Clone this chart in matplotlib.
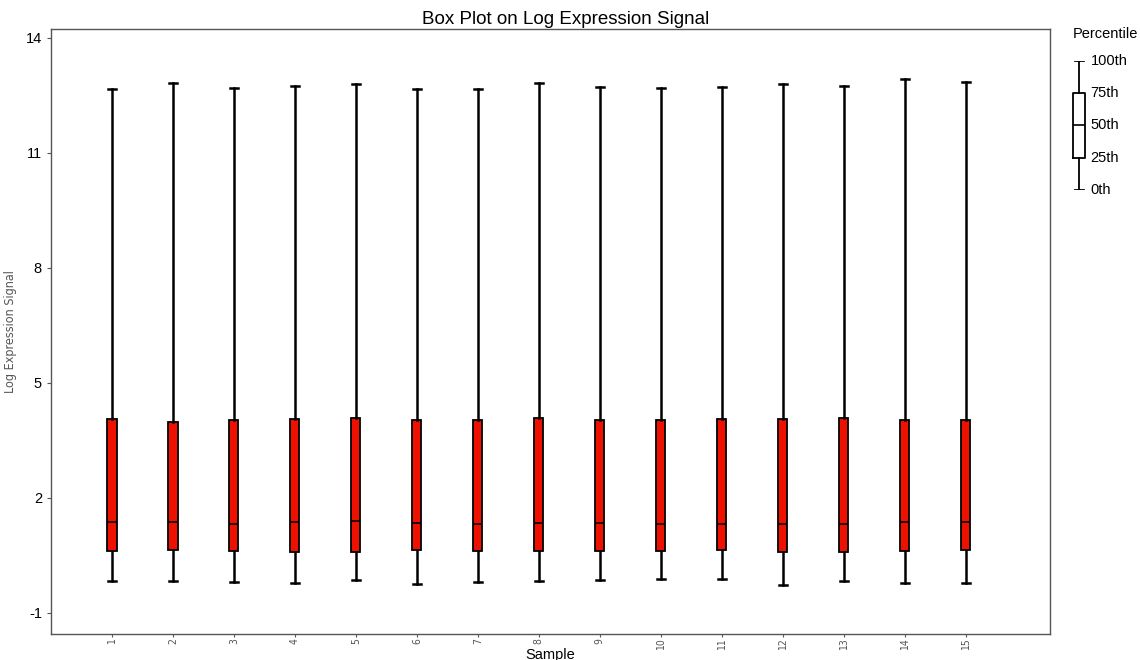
import numpy as np
import matplotlib.pyplot as plt

# Box plot of log expression signal per sample
samples = [str(i) for i in range(1, 16)]
whislo = [-0.17, -0.18, -0.20, -0.21, -0.13, -0.25, -0.20, -0.18, -0.13, -0.12, -0.11, -0.26, -0.18, -0.23, -0.21]
q1 = [0.62, 0.65, 0.62, 0.60, 0.60, 0.63, 0.62, 0.61, 0.62, 0.62, 0.63, 0.60, 0.60, 0.62, 0.63]
med = [1.36, 1.38, 1.33, 1.36, 1.40, 1.35, 1.31, 1.35, 1.35, 1.32, 1.33, 1.33, 1.31, 1.38, 1.36]
q3 = [4.05, 3.98, 4.03, 4.05, 4.08, 4.02, 4.03, 4.09, 4.03, 4.03, 4.05, 4.06, 4.08, 4.03, 4.03]
whishi = [12.67, 12.82, 12.70, 12.75, 12.79, 12.67, 12.67, 12.83, 12.72, 12.70, 12.72, 12.79, 12.75, 12.92, 12.85]

yticks = [-1, 2, 5, 8, 11, 14]
legend_pct = [0, 25, 50, 75, 100]
legend_labels = ['0th', '25th', '50th', '75th', '100th']

plt.rcParams['font.family'] = ['Liberation Sans', 'DejaVu Sans']

fig = plt.figure(figsize=(11.4, 6.6), dpi=100)
ax = fig.add_axes([0.0447, 0.0394, 0.8763, 0.9166])

stats = []
for i in range(len(samples)):
    stats.append({'whislo': whislo[i], 'q1': q1[i], 'med': med[i],
                  'q3': q3[i], 'whishi': whishi[i], 'fliers': []})

pos = np.arange(1, len(samples) + 1)
ax.bxp(stats, positions=pos, widths=0.15, capwidths=0.13, patch_artist=True,
       showfliers=False,
       boxprops=dict(facecolor='#EE1100', edgecolor='black', linewidth=1.3),
       medianprops=dict(color='black', linewidth=1.2),
       whiskerprops=dict(color='black', linewidth=1.8),
       capprops=dict(color='black', linewidth=1.8))

ax.set_xlim(0, 16.38)
ax.set_ylim(-1.55, 14.23)
ax.set_yticks(yticks)
ax.set_yticklabels([str(t) for t in yticks], fontsize=10.5)
ax.set_xticks(pos)
ax.set_xticklabels(samples, rotation=90, fontsize=7.5, color='#555555',
                   family='DejaVu Sans', fontstretch='condensed')
ax.tick_params(axis='y', length=3, color='#555555')
ax.tick_params(axis='x', length=2, pad=1, color='#555555')
for s in ax.spines.values():
    s.set_color('#555555')
    s.set_linewidth(1)

fig.text(0.496, 0.971, 'Box Plot on Log Expression Signal', fontsize=13.5,
         ha='center', va='center')
ax.set_xlabel('Sample', fontsize=10.5)
ax.xaxis.label.set_va('center')
ax.xaxis.set_label_coords(0.5, -0.034)
ax.set_ylabel('Log Expression Signal', fontsize=9, color='#555555',
              family='DejaVu Sans', fontstretch='condensed')
ax.yaxis.set_label_coords(-0.034, 0.5)

# percentile legend
lax = fig.add_axes([0.9386, 0.712, 0.016, 0.196])
lax.bxp([{'whislo': legend_pct[0], 'q1': legend_pct[1], 'med': legend_pct[2],
          'q3': legend_pct[3], 'whishi': legend_pct[4], 'fliers': []}],
        positions=[0], widths=0.75, capwidths=0.6, showfliers=False,
        boxprops=dict(color='black', linewidth=1.3),
        medianprops=dict(color='black', linewidth=1.2),
        whiskerprops=dict(color='black', linewidth=1.3),
        capprops=dict(color='black', linewidth=1.3))
lax.set_xlim(-0.6, 0.6)
lax.set_ylim(0, 100)
lax.axis('off')
for p, lab in zip(legend_pct, legend_labels):
    lax.text(0.75, p, lab, fontsize=10.5, va='center', ha='left', clip_on=False)
fig.text(0.941, 0.948, 'Percentile', fontsize=10.5, ha='left', va='center')

fig.savefig('out.png', dpi=100)
